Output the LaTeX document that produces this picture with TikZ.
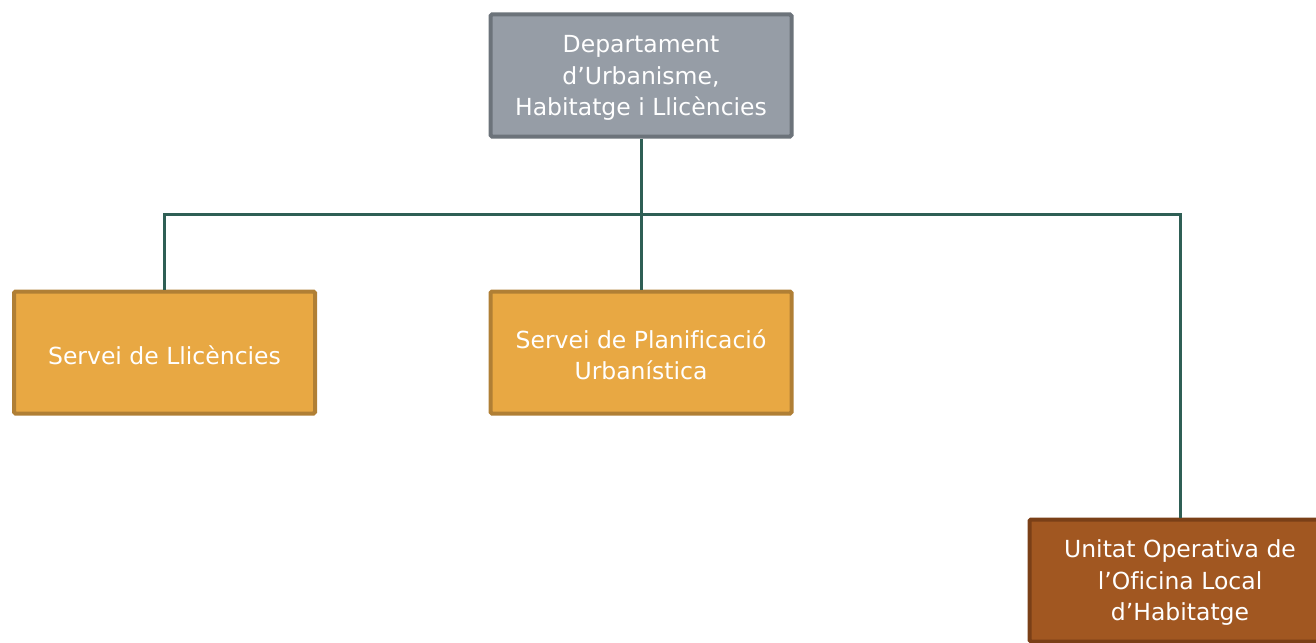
\documentclass[tikz,border=0pt]{standalone}
\usepackage{fontspec}
\setmainfont[Ligatures=NoCommon]{DejaVu Sans}
\definecolor{grayfill}{HTML}{969DA6}
\definecolor{graydraw}{HTML}{6C737A}
\definecolor{orfill}{HTML}{E8A843}
\definecolor{ordraw}{HTML}{B07F35}
\definecolor{brfill}{HTML}{A15721}
\definecolor{brdraw}{HTML}{7A3F17}
\definecolor{conn}{HTML}{2F5F55}
\tikzset{
  box/.style={draw, line width=4pt, minimum width=301pt, minimum height=122pt, inner sep=0pt,
    rounded corners=1.5pt},
  boxtext/.style={text=white, align=center, inner sep=0pt, yshift=-2.5pt,
    font=\fontsize{23.5}{31.5}\selectfont},
  graybox/.style={box, fill=grayfill, draw=graydraw},
  orbox/.style={box, fill=orfill, draw=ordraw},
  brbox/.style={box, fill=brfill, draw=brdraw},
  link/.style={draw=conn, line width=3pt}
}
\begin{document}
\begin{tikzpicture}[x=1pt,y=-1pt]
\clip (0,0) rectangle (1316,642);
\useasboundingbox (0,0) rectangle (1316,642);
\node[graybox] (dep) at (641,75.5) {};
\node[orbox] (llic) at (164.5,352.5) {};
\node[orbox] (plan) at (641,352.5) {};
\node[brbox] (unit) at (1180,580.5) {};
\node[boxtext] (depT) at (dep.center) {Departament\\d’Urbanisme,\\Habitatge i Llicències};
\node[boxtext] (llicT) at (llic.center) {Servei de Llicències};
\node[boxtext] (planT) at (plan.center) {Servei de Planificació\\Urbanística};
\node[boxtext] (unitT) at (unit.center) {Unitat Operativa de\\l’Oficina Local\\d’Habitatge};
\coordinate (hub) at (641,214);
\draw[link] (dep.south) -- (hub);
\draw[link] (hub) -| (llic.north);
\draw[link] (hub) -- (plan.north);
\draw[link] (hub) -| (unit.north);
\end{tikzpicture}
\end{document}
